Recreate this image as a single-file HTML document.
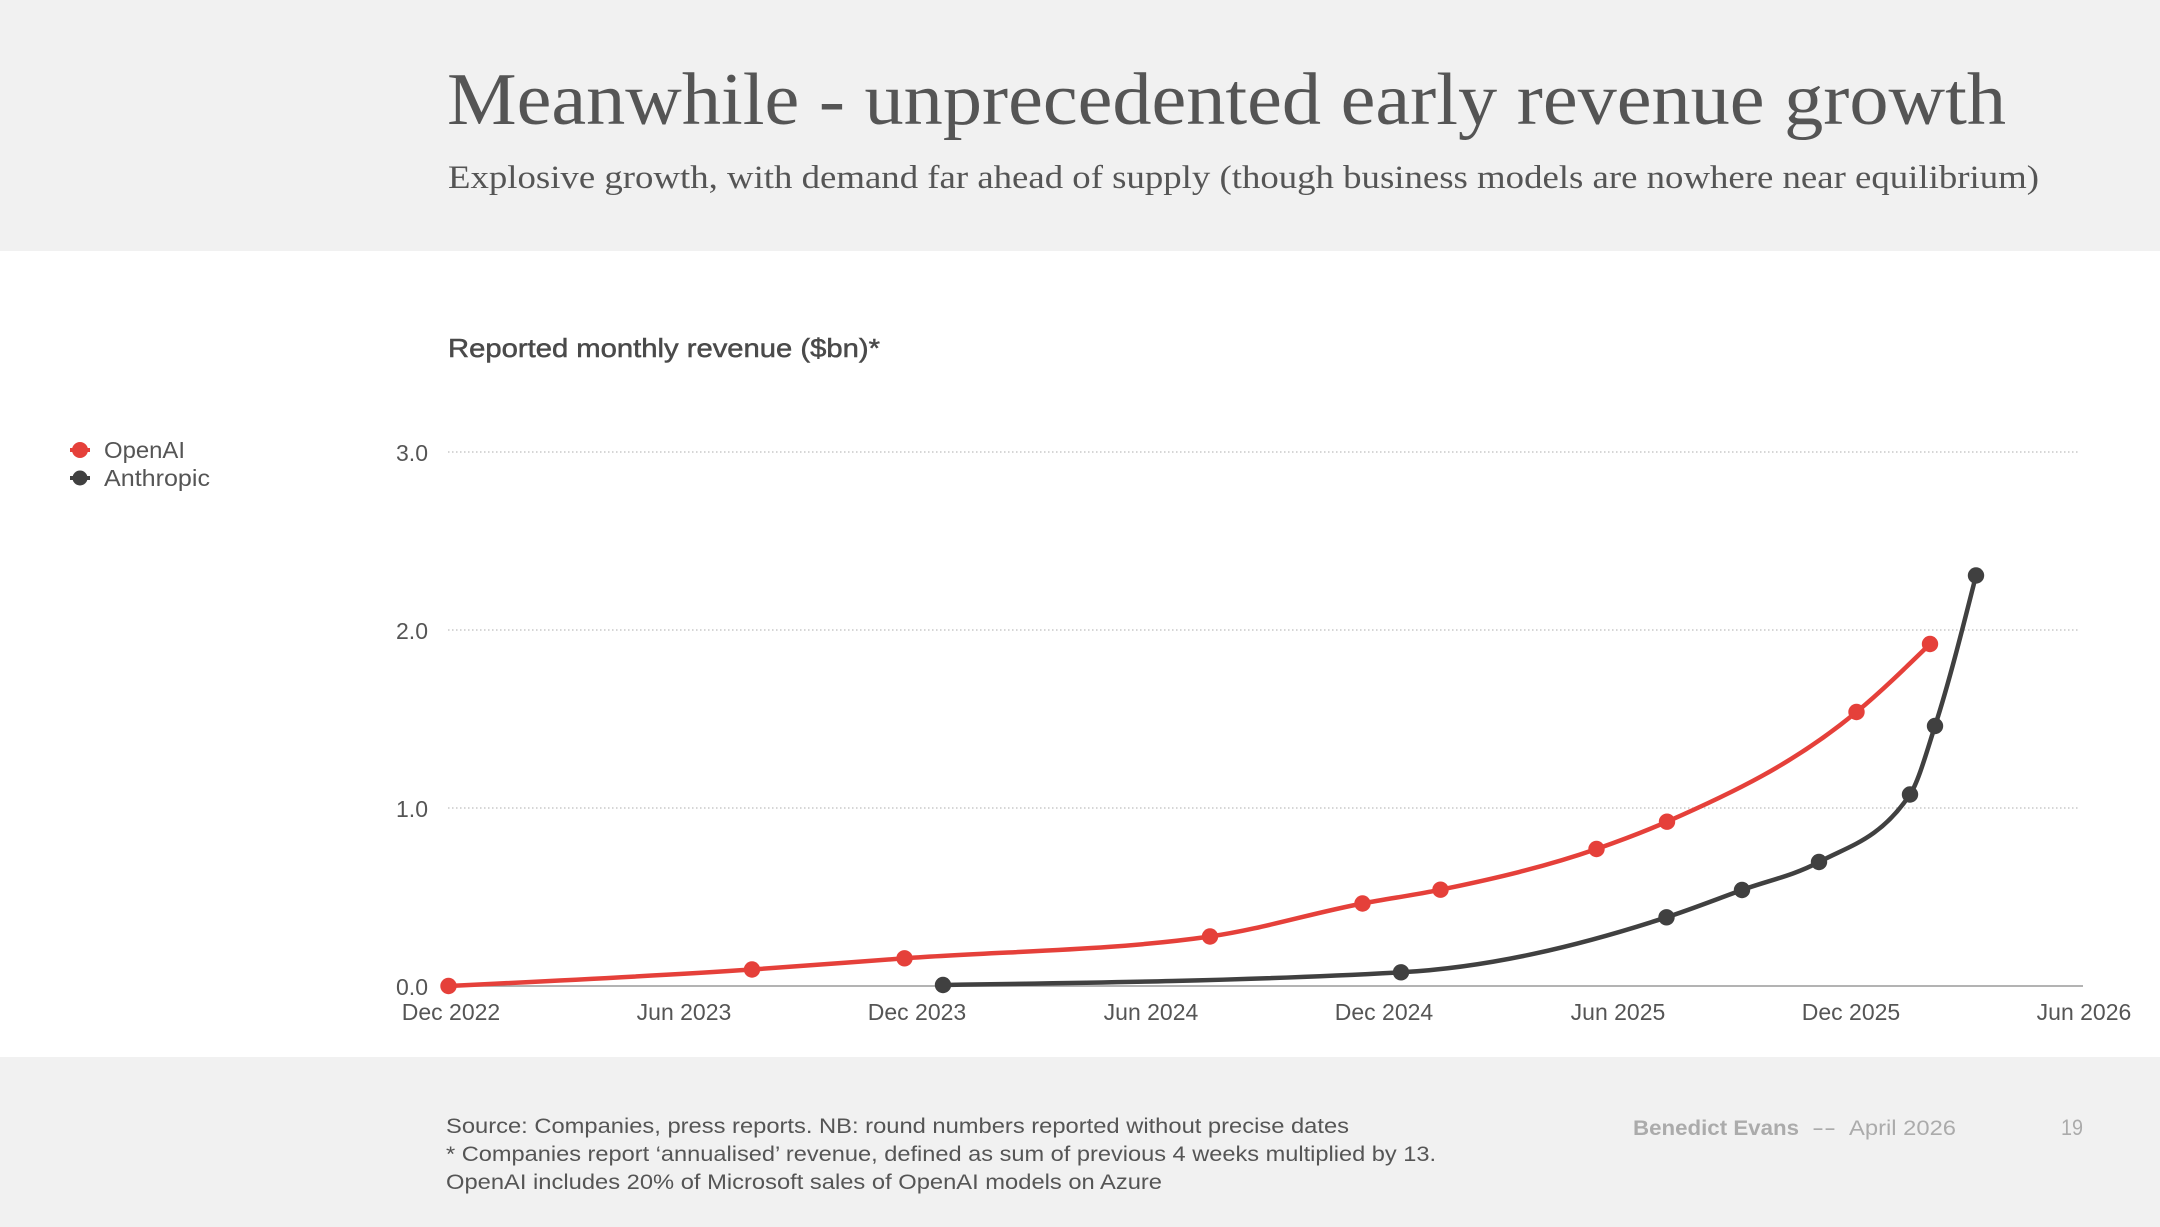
<!DOCTYPE html>
<html>
<head>
<meta charset="utf-8">
<style>
html,body{margin:0;padding:0;background:#fff;}
svg{display:block;}
.sans{font-family:"Liberation Sans","DejaVu Sans",sans-serif;}
.serif{font-family:"Liberation Serif","DejaVu Serif",serif;}
</style>
</head>
<body>
<svg width="2160" height="1227" viewBox="0 0 2160 1227" xmlns="http://www.w3.org/2000/svg">
  <!-- bands -->
  <rect x="0" y="0" width="2160" height="251" fill="#f1f1f1"/>
  <rect x="0" y="251" width="2160" height="806" fill="#ffffff"/>
  <rect x="0" y="1057" width="2160" height="170" fill="#f1f1f1"/>

  <!-- title -->
  <text class="serif" x="447" y="124" font-size="74" fill="#555555" textLength="1559" lengthAdjust="spacingAndGlyphs">Meanwhile - unprecedented early revenue growth</text>
  <text class="serif" x="448" y="188" font-size="33" fill="#555555" textLength="1591" lengthAdjust="spacingAndGlyphs">Explosive growth, with demand far ahead of supply (though business models are nowhere near equilibrium)</text>

  <!-- chart title -->
  <text class="sans" x="448" y="357" font-size="26" fill="#4a4a4a" stroke="#4a4a4a" stroke-width="0.5" textLength="432" lengthAdjust="spacingAndGlyphs">Reported monthly revenue ($bn)*</text>

  <!-- legend -->
  <line x1="70" y1="450" x2="90" y2="450" stroke="#e5403a" stroke-width="4"/>
  <circle cx="80" cy="450" r="8" fill="#e5403a"/>
  <text class="sans" x="104" y="458" font-size="23" fill="#555555" textLength="81" lengthAdjust="spacingAndGlyphs">OpenAI</text>
  <line x1="70" y1="478" x2="90" y2="478" stroke="#404040" stroke-width="4"/>
  <circle cx="80" cy="478" r="7.5" fill="#404040"/>
  <text class="sans" x="104" y="486" font-size="23" fill="#555555" textLength="106" lengthAdjust="spacingAndGlyphs">Anthropic</text>

  <!-- gridlines -->
  <g stroke="#bdbdbd" stroke-width="1.3" stroke-dasharray="1.5 2.5">
    <line x1="448" y1="452" x2="2080" y2="452"/>
    <line x1="448" y1="630" x2="2080" y2="630"/>
    <line x1="448" y1="808" x2="2080" y2="808"/>
  </g>
  <line x1="448" y1="986" x2="2083" y2="986" stroke="#9a9a9a" stroke-width="1.5"/>

  <!-- y labels -->
  <g class="sans" font-size="23" fill="#555555" text-anchor="end">
    <text x="428" y="461">3.0</text>
    <text x="428" y="639">2.0</text>
    <text x="428" y="817">1.0</text>
    <text x="428" y="995">0.0</text>
  </g>

  <!-- x labels -->
  <g class="sans" font-size="23" fill="#555555" text-anchor="middle">
    <text x="451" y="1020">Dec 2022</text>
    <text x="684" y="1020">Jun 2023</text>
    <text x="917" y="1020">Dec 2023</text>
    <text x="1151" y="1020">Jun 2024</text>
    <text x="1384" y="1020">Dec 2024</text>
    <text x="1618" y="1020">Jun 2025</text>
    <text x="1851" y="1020">Dec 2025</text>
    <text x="2084" y="1020">Jun 2026</text>
  </g>

  <!-- OpenAI line -->
  <path fill="none" stroke="#e5403a" stroke-width="4.5" stroke-linecap="round" stroke-linejoin="round"
    d="M448.5,986 C549.7,981.14 650.8,976.28 752,969.5 C802.83,966.09 853.67,962.0 904.5,958.3 C1006.33,950.89 1108.17,951.03 1210,936.5 C1260.83,929.25 1311.67,913.17 1362.5,903.5 C1388.5,898.55 1414.5,895.03 1440.5,889.7 C1492.5,879.04 1544.5,867.09 1596.5,849 C1620,840.82 1643.5,832.02 1667,821.7 C1730.17,793.96 1793.33,764.33 1856.5,712 C1881,691.7 1905.5,667.85 1930,644"/>
  <g fill="#e5403a">
    <circle cx="448.5" cy="986" r="8.2"/>
    <circle cx="752" cy="969.5" r="8.2"/>
    <circle cx="904.5" cy="958.3" r="8.2"/>
    <circle cx="1210" cy="936.5" r="8.2"/>
    <circle cx="1362.5" cy="903.5" r="8.2"/>
    <circle cx="1440.5" cy="889.7" r="8.2"/>
    <circle cx="1596.5" cy="849" r="8.2"/>
    <circle cx="1667" cy="821.7" r="8.2"/>
    <circle cx="1856.5" cy="712" r="8.2"/>
    <circle cx="1930" cy="644" r="8.2"/>
  </g>

  <!-- Anthropic line -->
  <path fill="none" stroke="#404040" stroke-width="4.5" stroke-linecap="round" stroke-linejoin="round"
    d="M943,985 C1095.67,982.88 1248.33,980.77 1401,972.3 C1489.5,967.39 1578,946.28 1666.5,917.3 C1691.67,909.06 1716.83,899.13 1742,890 C1767.67,880.69 1793.33,875.78 1819,862 C1849.33,845.71 1879.67,839.5 1910,794.5 C1918.33,782.14 1926.67,751.77 1935,726 C1948.67,683.73 1962.33,629.62 1976,575.5"/>
  <g fill="#404040">
    <circle cx="943" cy="985" r="8.2"/>
    <circle cx="1401" cy="972.3" r="8.2"/>
    <circle cx="1666.5" cy="917.3" r="8.2"/>
    <circle cx="1742" cy="890" r="8.2"/>
    <circle cx="1819" cy="862" r="8.2"/>
    <circle cx="1910" cy="794.5" r="8.2"/>
    <circle cx="1935" cy="726" r="8.2"/>
    <circle cx="1976" cy="575.5" r="8.2"/>
  </g>

  <!-- footer -->
  <g class="sans" font-size="21" fill="#555555">
    <text x="446" y="1133" textLength="903" lengthAdjust="spacingAndGlyphs">Source: Companies, press reports. NB: round numbers reported without precise dates</text>
    <text x="446" y="1161" textLength="990" lengthAdjust="spacingAndGlyphs">* Companies report ‘annualised’ revenue, defined as sum of previous 4 weeks multiplied by 13.</text>
    <text x="446" y="1189" textLength="716" lengthAdjust="spacingAndGlyphs">OpenAI includes 20% of Microsoft sales of OpenAI models on Azure</text>
  </g>
  <g class="sans" font-size="21" fill="#ababab">
    <text x="1633" y="1135" font-weight="bold" textLength="166" lengthAdjust="spacingAndGlyphs">Benedict Evans</text>
    <text x="1812" y="1135" textLength="24" lengthAdjust="spacingAndGlyphs">--</text>
    <text x="1849" y="1135" textLength="107" lengthAdjust="spacingAndGlyphs">April 2026</text>
    <text x="2061" y="1135" font-size="22" textLength="22" lengthAdjust="spacingAndGlyphs">19</text>
  </g>
</svg>
</body>
</html>
